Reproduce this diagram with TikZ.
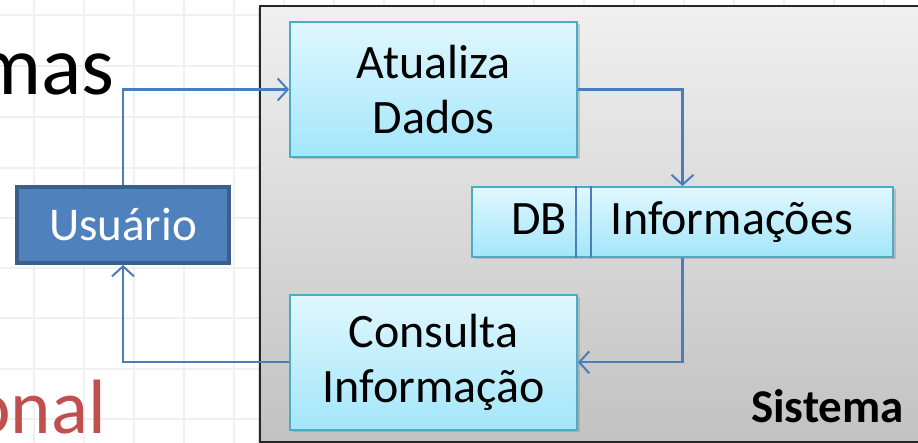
\documentclass[tikz,border=0pt]{standalone}
\usepackage{fontspec}
\setmainfont{Carlito}
\usetikzlibrary{arrows.meta,positioning,calc,shadows}

\definecolor{userblue}{HTML}{4F81BD}
\definecolor{userborder}{HTML}{3A5F8B}
\definecolor{boxborder}{HTML}{4BACC6}
\definecolor{boxtop}{HTML}{E0F7FE}
\definecolor{boxbottom}{HTML}{A3E6FA}
\definecolor{arrowblue}{HTML}{4A7EBB}
\definecolor{slidered}{HTML}{C0504D}
\definecolor{systop}{HTML}{F0F0F0}
\definecolor{sysbottom}{HTML}{C2C2C2}

\begin{document}
\begin{tikzpicture}[
    x=1pt, y=-1pt,
    gridline/.style={draw=black!6, line width=1.6pt},
    slidetext/.style={inner sep=0pt, font=\fontsize{84}{90}\selectfont},
    sysbox/.style={rectangle, draw=black!85, line width=1.8pt, top color=systop, bottom color=sysbottom, minimum width=690pt, minimum height=436pt, inner sep=0pt, drop shadow={shadow xshift=-2pt, shadow yshift=-2pt, opacity=0.25}},
    process/.style={rectangle, draw=boxborder, line width=1.8pt, top color=boxtop, bottom color=boxbottom, minimum width=287pt, minimum height=135pt, inner sep=0pt, align=center, font=\fontsize{48}{55}\selectfont, drop shadow={shadow xshift=2.5pt, shadow yshift=-2.5pt, opacity=0.35}},
    store/.style={process, minimum width=421pt, minimum height=70pt},
    actor/.style={rectangle, draw=userborder, line width=4pt, fill=userblue, minimum width=212pt, minimum height=76pt, inner sep=0pt, text=white, font=\fontsize{47}{52}\selectfont},
    flow/.style={draw=arrowblue, line width=2.2pt, -{Straight Barb[length=10pt, width=22pt, line width=2pt]}},
    divider/.style={draw=arrowblue, line width=1.8pt}
]
    \useasboundingbox (0,0) rectangle (918,443);
    \fill[white] (0,0) rectangle (918,443);

    % Slide grid
    \foreach \gx in {34,84,...,934}
        \draw[gridline] (\gx,0) -- (\gx,443);
    \foreach \gy in {15,66,117,168,218,268,318,369,419}
        \draw[gridline] (0,\gy) -- (918,\gy);

    % Slide text behind the diagram
    \node[slidetext, anchor=base east] (titulo) at (115,95) {mas};
    \node[slidetext, text=slidered, font=\fontsize{77}{84}\selectfont, anchor=base east] (subtitulo) at (106,433) {onal};

    % System boundary
    \node[sysbox, anchor=north west] (sistema) at (259,5) {};
    \node[anchor=base east, inner sep=0pt, font=\fontsize{47}{52}\selectfont\bfseries] (sistemalabel) at (904,422) {Sistema};

    % Processes
    \node[process] (atualiza) at (433.5,89.5) {Atualiza\\Dados};
    \node[process, below=136pt of atualiza] (consulta) {Consulta\\Informação};
    \node[store] (db) at (682.5,222) {\makebox[105pt][r]{DB\hspace{10pt}}\hspace{15pt}\makebox[301pt][l]{\hspace{19pt}Informações}};
    \draw[divider] ([xshift=105pt]db.north west) -- ([xshift=105pt]db.south west);
    \draw[divider] ([xshift=120pt]db.north west) -- ([xshift=120pt]db.south west);

    % External entity
    \node[actor] (usuario) at (123,225) {Usuário};

    % Flows
    \draw[flow] (usuario.north) |- (atualiza.west);
    \draw[flow] (atualiza.east) -| (db.north);
    \draw[flow] (db.south) |- (consulta.east);
    \draw[flow] (consulta.west) -| (usuario.south);
\end{tikzpicture}
\end{document}
